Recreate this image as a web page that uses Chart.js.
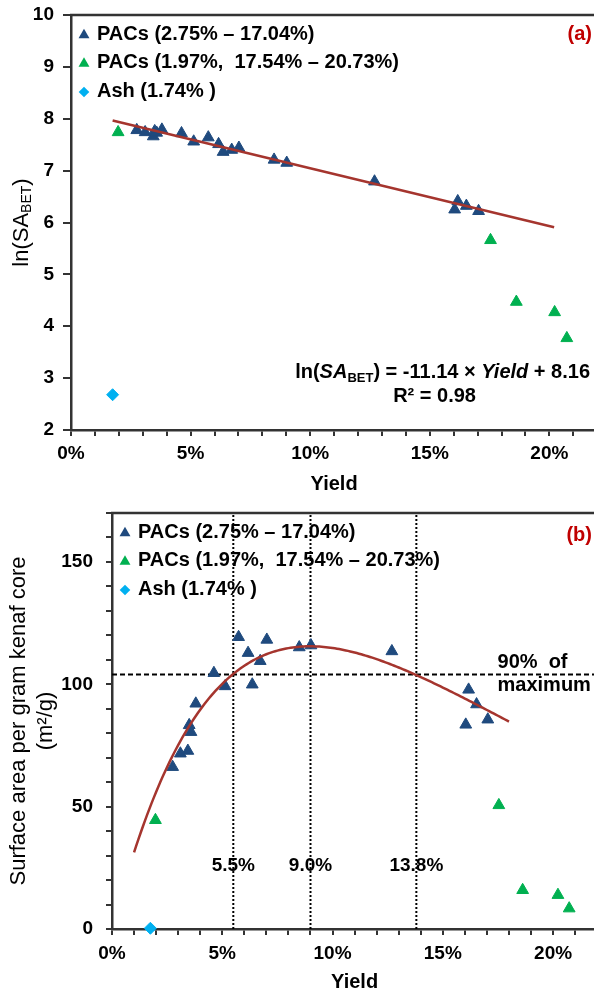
<!DOCTYPE html>
<html>
<head>
<meta charset="utf-8">
<title>Yield and surface area of PACs</title>
<script src="https://cdn.jsdelivr.net/npm/chart.js@4.4.1/dist/chart.umd.min.js"></script>
<style>
  html, body { margin: 0; padding: 0; background: #fff; overflow: hidden; }
  #wrap { width: 605px; }
  canvas { display: block; }
</style>
</head>
<body>
<div id="wrap">
  <canvas id="chart-a" width="605" height="500"></canvas>
  <canvas id="chart-b" width="605" height="496"></canvas>
</div>
<script>
// PAC samples (yield in %), same order in both panels
const pacYield = [2.75, 3.10, 3.44, 3.50, 3.58, 3.80, 4.62, 5.13, 5.74, 6.17, 6.36, 6.72, 7.02, 8.49, 9.02, 12.69, 16.04, 16.17, 16.53, 17.04];
const pacLnSA  = [7.78, 7.74, 7.66, 7.76, 7.73, 7.79, 7.72, 7.56, 7.64, 7.51, 7.36, 7.40, 7.44, 7.21, 7.15, 6.79, 6.25, 6.41, 6.32, 6.22];
const pacArea  = [66.2, 71.7, 72.8, 83.3, 80.5, 92.1, 104.6, 99.2, 119.3, 112.8, 99.9, 109.5, 118.2, 115.1, 115.9, 113.5, 83.5, 97.8, 91.8, 85.6];

// PACs outside the fitted range
const otherYield = [1.97, 17.54, 18.62, 20.22, 20.73];
const otherLnSA  = [7.74, 5.66, 4.47, 4.27, 3.77];
const otherArea  = [44.5, 50.6, 15.9, 13.9, 8.4];

// ash
const ashYield = [1.74];
const ashLnSA  = [2.68];
const ashArea  = [0.3];

const seriesLabels = ['PACs (2.75% \u2013 17.04%)', 'PACs (1.97%,  17.54% \u2013 20.73%)', 'Ash (1.74% )'];

// linear fit of ln(SA) against yield (fraction)
const fitSlope = -11.14;
const fitIntercept = 8.16;
const fitR2 = 0.98;
const lnFitRange = [1.74, 20.2];
const areaFitRange = [1.0, 18.0];

// yields where the area curve hits 90 % of its maximum, and the maximum itself
const markYields = [5.5, 9.0, 13.8];

const navy = '#1F4A7E', green = '#00B050', cyan = '#00B0F0';
const fitRed = '#A5352E', axisGrey = '#333333', tagRed = '#C00000';
const FONT = '"Liberation Sans", Arial, sans-serif';

const pts = (xs, ys) => xs.map((x, i) => ({ x: x, y: ys[i] }));
const areaAt = x => x / 100 * Math.exp(fitIntercept + fitSlope * x / 100);

const lnFitLine = lnFitRange.map(x => ({ x: x, y: fitSlope * x / 100 + fitIntercept }));
const areaFitLine = [];
for (let x = areaFitRange[0]; x <= areaFitRange[1] + 1e-9; x += 0.1) areaFitLine.push({ x: x, y: areaAt(x) });
const areaMax = areaAt(100 / -fitSlope);

function richText(ctx, parts, x, y, align) {
  let w = 0;
  parts.forEach(p => { ctx.font = p.font; p.w = ctx.measureText(p.t).width; w += p.w; });
  let cx = align === 'right' ? x - w : align === 'center' ? x - w / 2 : x;
  ctx.textAlign = 'left';
  ctx.textBaseline = 'alphabetic';
  parts.forEach(p => { ctx.font = p.font; ctx.fillText(p.t, cx, y + (p.dy || 0)); cx += p.w; });
}

function marker(ctx, style, color, x, y, r) {
  ctx.beginPath();
  if (style === 'triangle') {
    ctx.moveTo(x, y - r);
    ctx.lineTo(x + r * 0.866, y + r * 0.5);
    ctx.lineTo(x - r * 0.866, y + r * 0.5);
  } else {
    ctx.moveTo(x, y - r);
    ctx.lineTo(x + r, y);
    ctx.lineTo(x, y + r);
    ctx.lineTo(x - r, y);
  }
  ctx.closePath();
  ctx.fillStyle = color;
  ctx.fill();
}

// frame top, legend rows and the panel tag
function framePlugin(tag, tagDy) {
  return {
    id: 'frame' + tag,
    afterDatasetsDraw(chart) {
      const { ctx, chartArea: area } = chart;
      ctx.save();
      ctx.strokeStyle = axisGrey;
      ctx.lineWidth = 2.5;
      ctx.beginPath();
      ctx.moveTo(area.left - 1, area.top);
      ctx.lineTo(area.right, area.top);
      ctx.stroke();

      ctx.font = 'bold 20px ' + FONT;
      chart.data.datasets.filter(d => d.inLegend).forEach((d, i) => {
        const ly = area.top + 19 + i * 28.5;
        marker(ctx, d.pointStyle, d.backgroundColor, area.left + 13, ly + 1, d.pointStyle === 'triangle' ? 6.3 : 5.3);
        ctx.fillStyle = '#000';
        ctx.textAlign = 'left';
        ctx.textBaseline = 'middle';
        ctx.fillText(d.label, area.left + 26, ly);
      });

      ctx.fillStyle = tagRed;
      ctx.textAlign = 'right';
      ctx.textBaseline = 'middle';
      ctx.fillText(tag, 592, area.top + tagDy);
      ctx.restore();
    }
  };
}

function yieldAxis(tickPad, height, titlePad) {
  return {
    type: 'linear', min: 0, max: 22,
    ticks: {
      stepSize: 1, maxTicksLimit: 100, autoSkip: false, maxRotation: 0, padding: tickPad,
      color: '#000', font: { family: FONT, size: 19, weight: 'bold' },
      callback: v => v % 5 === 0 ? v + '%' : ''
    },
    grid: { drawOnChartArea: false, color: axisGrey, lineWidth: 2, tickLength: 6 },
    border: { color: axisGrey, width: 2.5 },
    title: { display: true, text: 'Yield', color: '#000', font: { family: FONT, size: 20, weight: 'bold' }, padding: { top: 0, bottom: titlePad } },
    afterFit: s => { s.height = height; s.paddingLeft = 0; s.paddingRight = 0; }
  };
}

const common = {
  responsive: false,
  animation: false,
  events: [],
  plugins: { legend: { display: false }, tooltip: { enabled: false } }
};

// (a) ln(SA_BET) against yield
const lnExtras = {
  id: 'lnExtras',
  afterDraw(chart) {
    const { ctx, chartArea: area, scales: { x, y } } = chart;
    ctx.save();
    ctx.fillStyle = '#000';
    ctx.translate(28, (area.top + area.bottom) / 2);
    ctx.rotate(-Math.PI / 2);
    richText(ctx, [
      { t: 'ln(SA', font: '22px ' + FONT },
      { t: 'BET', font: '14px ' + FONT, dy: 3 },
      { t: ')', font: '22px ' + FONT }
    ], 0, 0, 'center');
    ctx.restore();

    ctx.save();
    ctx.fillStyle = '#000';
    const b = 'bold 20px ' + FONT, bi = 'italic bold 20px ' + FONT;
    richText(ctx, [
      { t: 'ln(', font: b },
      { t: 'SA', font: bi },
      { t: 'BET', font: 'bold 13px ' + FONT, dy: 4 },
      { t: ') = ' + fitSlope.toFixed(2) + ' \u00d7 ', font: b },
      { t: 'Yield', font: bi },
      { t: ' + ' + fitIntercept.toFixed(2), font: b }
    ], x.getPixelForValue(21.7), y.getPixelForValue(3.0), 'right');
    richText(ctx, [{ t: 'R\u00b2 = ' + fitR2.toFixed(2), font: b }], x.getPixelForValue(15.2), y.getPixelForValue(2.54), 'center');
    ctx.restore();
  }
};

new Chart(document.getElementById('chart-a'), {
  type: 'scatter',
  data: {
    datasets: [
      { label: 'fit', type: 'line', data: lnFitLine, borderColor: fitRed, borderWidth: 2.5, pointRadius: 0, showLine: true },
      { label: seriesLabels[0], data: pts(pacYield, pacLnSA), pointStyle: 'triangle', pointRadius: 6.8, backgroundColor: navy, borderColor: navy, borderWidth: 1, inLegend: true, clip: false },
      { label: seriesLabels[1], data: pts(otherYield, otherLnSA), pointStyle: 'triangle', pointRadius: 6.8, backgroundColor: green, borderColor: green, borderWidth: 1, inLegend: true, clip: false },
      { label: seriesLabels[2], data: pts(ashYield, ashLnSA), pointStyle: 'rectRot', pointRadius: 6, backgroundColor: cyan, borderColor: cyan, borderWidth: 1, inLegend: true, clip: false }
    ]
  },
  options: Object.assign({}, common, {
    layout: { padding: { top: 15, right: 3, bottom: 0, left: 0 } },
    scales: {
      x: yieldAxis(6, 70, 4),
      y: {
        type: 'linear', min: 2, max: 10,
        ticks: { stepSize: 1, padding: 9, color: '#000', font: { family: FONT, size: 19, weight: 'bold' } },
        grid: { drawOnChartArea: false, color: axisGrey, lineWidth: 2, tickLength: 8 },
        border: { color: axisGrey, width: 2.5 },
        afterFit: s => { s.width = 71; s.paddingTop = 0; s.paddingBottom = 0; }
      }
    }
  }),
  plugins: [framePlugin('(a)', 19.5), lnExtras]
});

// (b) surface area per gram of kenaf core against yield
const areaExtras = {
  id: 'areaExtras',
  afterDraw(chart) {
    const { ctx, scales: { x, y } } = chart;
    ctx.save();
    ctx.fillStyle = '#000';
    ctx.textBaseline = 'middle';
    ctx.textAlign = 'center';
    ctx.font = 'bold 19px ' + FONT;
    markYields.forEach(m => ctx.fillText(m.toFixed(1) + '%', x.getPixelForValue(m), y.getPixelForValue(26)));
    ctx.textAlign = 'left';
    ctx.font = 'bold 20px ' + FONT;
    ctx.fillText('90%  of', x.getPixelForValue(17.48), y.getPixelForValue(109));
    ctx.fillText('maximum', x.getPixelForValue(17.48), y.getPixelForValue(99.6));
    ctx.restore();
  }
};

const guideSets = markYields.map(m => ({
  label: 'guide', type: 'line', data: [{ x: m, y: 0 }, { x: m, y: 170 }],
  borderColor: '#000', borderWidth: 2, borderDash: [2, 2], pointRadius: 0, showLine: true
}));

new Chart(document.getElementById('chart-b'), {
  type: 'scatter',
  data: {
    datasets: [
      { label: 'fit', type: 'line', data: areaFitLine, borderColor: fitRed, borderWidth: 2.5, pointRadius: 0, showLine: true },
      { label: seriesLabels[0], data: pts(pacYield, pacArea), pointStyle: 'triangle', pointRadius: 6.8, backgroundColor: navy, borderColor: navy, borderWidth: 1, inLegend: true, clip: false },
      { label: seriesLabels[1], data: pts(otherYield, otherArea), pointStyle: 'triangle', pointRadius: 6.8, backgroundColor: green, borderColor: green, borderWidth: 1, inLegend: true, clip: false },
      { label: seriesLabels[2], data: pts(ashYield, ashArea), pointStyle: 'rectRot', pointRadius: 6, backgroundColor: cyan, borderColor: cyan, borderWidth: 1, inLegend: true, clip: false },
      { label: '90% of maximum', type: 'line', data: [{ x: 0, y: 0.9 * areaMax }, { x: 22, y: 0.9 * areaMax }], borderColor: '#000', borderWidth: 2, borderDash: [5, 3], pointRadius: 0, showLine: true }
    ].concat(guideSets)
  },
  options: Object.assign({}, common, {
    layout: { padding: { top: 13, right: 2, bottom: 0, left: 0 } },
    scales: {
      x: yieldAxis(7, 67, 2),
      y: {
        type: 'linear', min: 0, max: 170,
        ticks: { stepSize: 10, autoSkip: false, padding: 13, color: '#000', font: { family: FONT, size: 19, weight: 'bold' },
                 callback: v => v % 50 === 0 ? v : '' },
        grid: { drawOnChartArea: false, color: axisGrey, lineWidth: 2, tickLength: 6 },
        border: { color: axisGrey, width: 2.5 },
        title: { display: true, text: ['Surface area per gram kenaf core', '(m\u00b2/g)'], color: '#000',
                 font: { family: FONT, size: 22 }, padding: { top: 6, bottom: 0 } },
        afterFit: s => { s.width = 112; s.paddingTop = 0; s.paddingBottom = 0; }
      }
    }
  }),
  plugins: [framePlugin('(b)', 22), areaExtras]
});
</script>
</body>
</html>
